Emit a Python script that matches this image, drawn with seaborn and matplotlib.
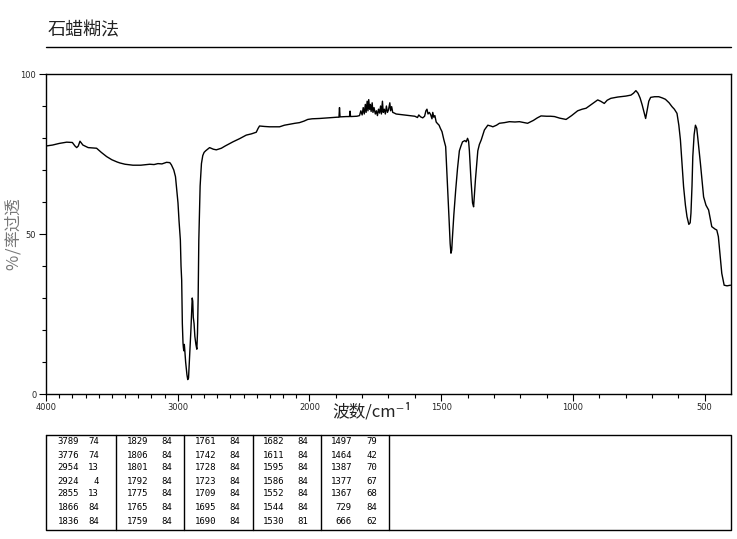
import numpy as np
import pandas as pd
import matplotlib
matplotlib.use("Agg")
import matplotlib.pyplot as plt
from matplotlib.lines import Line2D
from matplotlib.ticker import FixedLocator
import seaborn as sns

# ---------------- data ----------------
title_text = "石蜡糊法"
x_label = "波数/cm⁻¹"
y_label = "透过率/%"

wavenumber = [
    4000, 3950, 3900, 3843, 3800, 3780, 3767, 3755, 3742, 3720, 3680, 3650, 3616, 3580, 3540,
    3500, 3460, 3439, 3400, 3340, 3280, 3212, 3180, 3150, 3120, 3085, 3060, 3048, 3030, 3017,
    3008, 2998, 2990, 2980, 2975, 2970, 2965, 2960, 2957, 2954, 2950, 2947, 2940, 2930, 2924,
    2918, 2912, 2905, 2900, 2894, 2890, 2886, 2882, 2876, 2870, 2862, 2855, 2850, 2845, 2840,
    2830, 2820, 2810, 2800, 2788, 2758, 2730, 2707, 2669, 2640, 2581, 2530, 2480, 2440, 2404,
    2390, 2379, 2340, 2303, 2260, 2227, 2190, 2152, 2110, 2076, 2040, 2013, 1990, 1962, 1930,
    1895, 1888, 1886, 1884, 1860, 1848, 1846, 1844, 1820, 1810,
    1805, 1800, 1796, 1792, 1788, 1785, 1781, 1778, 1775, 1772, 1769, 1766, 1762, 1759, 1755,
    1750, 1746, 1742, 1738, 1734, 1730, 1727, 1723, 1720, 1716, 1712, 1708, 1704, 1700, 1695,
    1692, 1688, 1684, 1678, 1671,
    1650, 1620, 1600, 1590, 1585, 1578, 1570, 1563, 1558, 1554, 1550, 1545, 1540, 1535, 1532,
    1528, 1524, 1519, 1515, 1508, 1503, 1497, 1490, 1483, 1477, 1470, 1466, 1463, 1460, 1458,
    1452, 1445, 1438, 1431, 1425, 1419, 1410, 1405, 1400, 1396, 1393, 1387, 1381, 1377, 1374,
    1370, 1365, 1361, 1355, 1348, 1336, 1323, 1310, 1304, 1290, 1279, 1260, 1241, 1220, 1203,
    1185, 1172, 1150, 1135, 1121, 1100, 1085, 1070, 1050, 1026, 1005, 982, 965, 950, 930,
    906, 895, 881, 870, 856, 830, 799, 780, 770, 761, 753, 745, 737, 730, 724,
    718, 712, 705, 690, 674, 660, 649, 635, 624, 615, 605, 598, 592, 586, 580,
    573, 567, 560, 555, 552, 548, 545, 540, 535, 530, 526, 516, 504, 495, 485,
    473, 460, 454, 448, 440, 435, 426, 415, 402,
]
transmittance = [
    77.5, 77.8, 78.3, 78.7, 78.6, 77.5, 77.0, 77.5, 79.0, 77.8, 77.0, 76.9, 76.8, 75.5, 74.2,
    73.2, 72.5, 72.2, 71.8, 71.5, 71.5, 71.8, 71.7, 72.0, 71.9, 72.4, 72.3, 71.6, 70.0, 67.9,
    64.0, 59.7, 54.0, 48.1, 40.0, 35.6, 22.0, 16.0, 14.5, 13.5, 15.5, 14.0, 10.0, 6.0, 4.5,
    5.0, 10.0, 16.0, 20.0, 26.0, 30.0, 29.0, 24.0, 22.0, 18.0, 15.5, 14.0, 19.0, 30.0, 48.0,
    65.0, 72.0, 74.5, 75.5, 76.0, 77.0, 76.5, 76.3, 76.8, 77.5, 78.8, 79.8, 80.9, 81.3, 81.8,
    83.0, 83.75, 83.6, 83.5, 83.5, 83.5, 84.0, 84.3, 84.6, 84.8, 85.3, 85.8, 86.0, 86.1, 86.3,
    86.5, 86.5, 89.5, 86.6, 86.7, 86.7, 88.4, 86.7, 86.8, 87.0,
    88.5, 87.2, 89.5, 87.5, 90.5, 88.0, 91.5, 88.5, 92.0, 89.0, 90.5, 88.3, 91.0, 88.0, 89.5,
    87.5, 88.5, 87.0, 89.0, 87.8, 90.0, 87.5, 91.5, 88.0, 89.0, 87.5, 90.0, 88.0, 88.8, 91.0,
    88.5, 89.8, 88.0, 87.8, 87.5,
    87.3, 87.0, 86.8, 86.4, 87.2, 86.6, 86.3, 86.8, 88.5, 89.0, 87.5, 88.0, 87.3, 86.0, 88.0,
    86.5, 87.0, 85.0, 84.6, 84.0, 83.0, 82.0, 79.5, 77.3, 67.0, 54.4, 47.0, 44.0, 45.0, 48.0,
    56.0, 63.7, 70.5, 76.0, 77.5, 78.8, 79.2, 78.8, 79.9, 79.0, 76.0, 67.0, 59.7, 58.5, 62.0,
    67.0, 72.0, 76.0, 78.0, 79.4, 82.5, 84.0, 83.7, 83.5, 84.0, 84.6, 84.8, 85.1, 85.0, 85.1,
    84.8, 84.6, 85.5, 86.3, 86.9, 86.8, 86.8, 86.7, 86.2, 85.8, 87.0, 88.5, 89.0, 89.3, 90.5,
    91.9, 91.5, 90.8, 91.8, 92.4, 92.8, 93.1, 93.4, 94.0, 94.8, 94.0, 92.5, 90.3, 88.0, 86.1,
    88.75, 91.5, 92.7, 92.9, 92.9, 92.5, 92.1, 91.0, 89.8, 89.0, 87.7, 84.0, 79.4, 72.0, 64.8,
    59.0, 55.4, 53.0, 53.5, 56.5, 65.0, 74.2, 81.0, 84.0, 83.0, 80.0, 72.0, 61.6, 59.0, 57.5,
    52.3, 51.5, 51.25, 49.2, 42.0, 37.7, 34.0, 33.8, 34.0,
]

x_tick_labels = [4000, 3000, 2000, 1500, 1000, 500]
y_tick_labels = [0, 50, 100]

# peak table, five columns of (wavenumber, intensity)
col1_wn = ["3789", "3776", "2954", "2924", "2855", "1866", "1836"]
col1_val = ["74", "74", "13", "4", "13", "84", "84"]
col2_wn = ["1829", "1806", "1801", "1792", "1775", "1765", "1759"]
col2_val = ["84", "84", "84", "84", "84", "84", "84"]
col3_wn = ["1761", "1742", "1728", "1723", "1709", "1695", "1690"]
col3_val = ["84", "84", "84", "84", "84", "84", "84"]
col4_wn = ["1682", "1611", "1595", "1586", "1552", "1544", "1530"]
col4_val = ["84", "84", "84", "84", "84", "84", "81"]
col5_wn = ["1497", "1464", "1387", "1377", "1367", "729", "666"]
col5_val = ["79", "42", "70", "67", "68", "84", "62"]

# ---------------- plot ----------------
sns.set_theme(style="white")
plt.rcParams['font.family'] = ['Noto Sans CJK SC', 'DejaVu Sans']

W, H = 737, 539
fig = plt.figure(figsize=(W / 100, H / 100), dpi=100)
fig.patch.set_facecolor("white")

def px(x0, y0, x1, y1):
    return [x0 / W, 1 - y1 / H, (x1 - x0) / W, (y1 - y0) / H]

ax = fig.add_axes(px(46, 74, 731, 394))
ax.set_facecolor("white")

def fwd(w):
    w = np.asarray(w, dtype=float)
    return np.where(w > 2000, 2000 + (w - 2000) / 2.0, w)

def inv(p):
    p = np.asarray(p, dtype=float)
    return np.where(p > 2000, 2000 + (p - 2000) * 2.0, p)

ax.set_xscale("function", functions=(fwd, inv))

df = pd.DataFrame({"wn": wavenumber, "T": transmittance})
sns.lineplot(data=df, x="wn", y="T", sort=False, color="black", linewidth=1.0,
             ax=ax, legend=False)

ax.set_xlim(4000, 400)
ax.set_ylim(0, 100)
ax.set_xlabel("")
ax.set_ylabel("")

for s in ax.spines.values():
    s.set_color("black")
    s.set_linewidth(1.0)

ax.xaxis.set_major_locator(FixedLocator(x_tick_labels))
ax.xaxis.set_minor_locator(FixedLocator([v for v in range(500, 4001, 100) if v not in x_tick_labels]))
ax.yaxis.set_major_locator(FixedLocator(y_tick_labels))
ax.yaxis.set_minor_locator(FixedLocator([v for v in range(0, 101, 10) if v not in y_tick_labels]))
ax.set_xticklabels([str(v) for v in x_tick_labels])
ax.set_yticklabels([str(v) for v in y_tick_labels])
ax.tick_params(axis="both", which="both", direction="out", color="black",
               bottom=True, left=True, top=False, right=False, width=0.8)
ax.tick_params(axis="x", which="major", length=5, pad=1.5, labelsize=6)
ax.tick_params(axis="x", which="minor", length=3)
ax.tick_params(axis="y", which="major", length=5, pad=2, labelsize=6)
ax.tick_params(axis="y", which="minor", length=3)
for t in ax.get_xticklabels() + ax.get_yticklabels():
    t.set_family("DejaVu Sans")

# title and rule
fig.text(48 / W, 1 - 30 / H, title_text, fontsize=13, color="#222222",
         ha="left", va="center")
fig.add_artist(Line2D([46 / W, 731 / W], [1 - 47 / H, 1 - 47 / H],
                      color="black", linewidth=1.0))

# axis labels
fig.text(372 / W, 1 - 412 / H, x_label, fontsize=12, color="#222222",
         ha="center", va="center")
# y label: characters stacked top-to-bottom, each glyph turned 90 degrees
ylab_y = [207, 223, 239, 251, 262]
for ch, yy in zip(y_label, ylab_y):
    fig.text(14 / W, 1 - yy / H, ch, fontsize=12, color="#777777",
             ha="center", va="center", rotation=90)

# table
top, bot = 435, 530
fig.add_artist(Line2D([46 / W, 731 / W, 731 / W, 46 / W, 46 / W],
                      [1 - top / H, 1 - top / H, 1 - bot / H, 1 - bot / H, 1 - top / H],
                      color="black", linewidth=1.0))
col_lines = [116, 184, 253, 321, 389]
for cx in col_lines:
    fig.add_artist(Line2D([cx / W, cx / W], [1 - top / H, 1 - bot / H],
                          color="black", linewidth=1.0))

columns = [(col1_wn, col1_val), (col2_wn, col2_val), (col3_wn, col3_val),
           (col4_wn, col4_val), (col5_wn, col5_val)]
wn_right = [79, 148, 216, 284, 352]
val_right = [99, 172, 240, 308, 377]
row_y = [442, 455, 468, 481, 494, 507, 521]
for (wns, vals), xr1, xr2 in zip(columns, wn_right, val_right):
    for i, (a, b) in enumerate(zip(wns, vals)):
        fig.text(xr1 / W, 1 - row_y[i] / H, a, fontsize=6.5, family="DejaVu Sans Mono",
                 ha="right", va="center", color="black")
        fig.text(xr2 / W, 1 - row_y[i] / H, b, fontsize=6.5, family="DejaVu Sans Mono",
                 ha="right", va="center", color="black")

fig.savefig("out.png", dpi=100, facecolor="white")
